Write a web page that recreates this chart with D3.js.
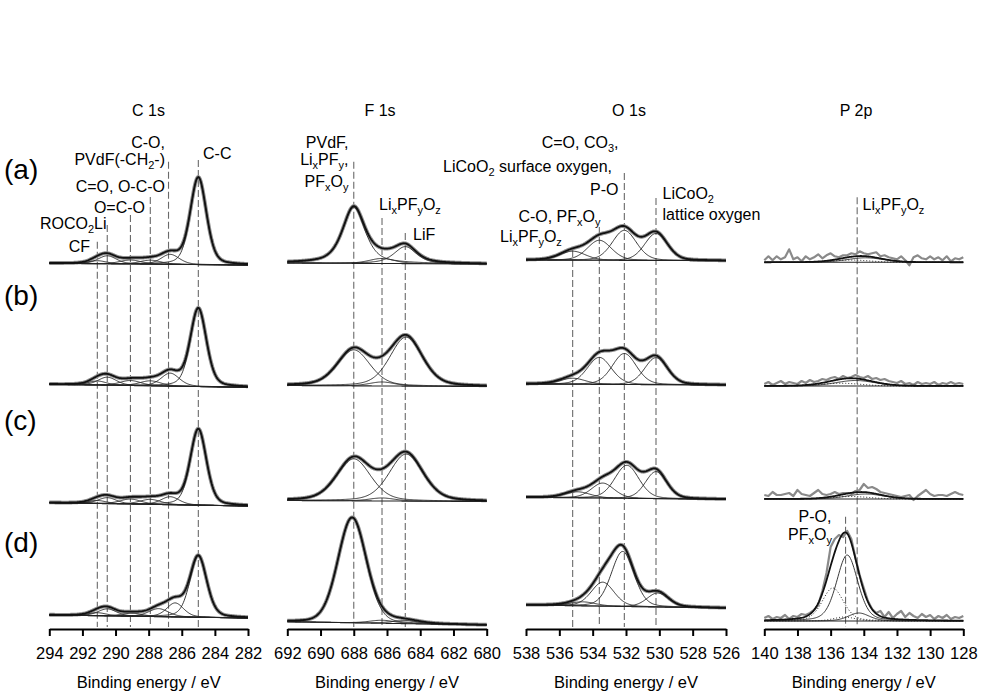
<!DOCTYPE html>
<html><head><meta charset="utf-8">
<script src="https://cdn.jsdelivr.net/npm/d3@7"></script>
<style>
body{margin:0;background:#fff;}
svg{display:block;font-family:"Liberation Sans",Arial,sans-serif;}
</style></head><body>
<svg id="chart" width="984" height="695"></svg>
<script>
// ---------------- data ----------------
const sampleLabels = ["(a)", "(b)", "(c)", "(d)"];
const regionTitles = ["C 1s", "F 1s", "O 1s", "P 2p"];
const cDomain = [294, 282], fDomain = [692, 680], oDomain = [538, 526], pDomain = [140, 128];

// reference binding energies (eV)
const cRefs = [291.1, 290.5, 289.1, 287.9, 286.8, 285.0];
const fRefs = [688.0, 686.3, 684.9];
const oRefs = [535.2, 533.6, 532.1, 530.2];
const pRefs = [135.1, 134.4];

// fitted components per sample: [centre eV, height, FWHM eV, Lorentzian fraction]
const c1sPeaks = [
  [[291.1, 3, 1.3, 0.3], [290.5, 8, 1.3, 0.3], [289.1, 4, 1.5, 0.3], [287.9, 4, 1.5, 0.3], [286.7, 10, 1.3, 0.3], [285.0, 87, 1.15, 0.3]],
  [[291.1, 4, 1.3, 0.3], [290.5, 8, 1.3, 0.3], [289.1, 5, 1.5, 0.3], [287.9, 5, 1.5, 0.3], [286.7, 13, 1.3, 0.3], [285.0, 78, 1.15, 0.3]],
  [[291.1, 3, 1.3, 0.3], [290.5, 6, 1.3, 0.3], [289.1, 5, 1.5, 0.3], [287.9, 5, 1.5, 0.3], [286.7, 8, 1.3, 0.3], [285.0, 76, 1.15, 0.3]],
  [[291.1, 3, 1.3, 0.3], [290.5, 7, 1.3, 0.3], [289.0, 3, 1.5, 0.3], [287.4, 8, 1.4, 0.3], [286.4, 14, 1.2, 0.3], [285.0, 61, 1.2, 0.3]]
];
const c1sBackground = [[2.7, 1], [4.7, 1.7], [4.3, 1], [11, 8]];

const f1sPeaks = [
  [[688.0, 56, 1.6, 0.6], [686.3, 5, 1.8, 0.3], [684.9, 17, 1.6, 0.6]],
  [[688.0, 36, 2.3, 0.3], [686.3, 4, 1.8, 0.3], [684.85, 49, 2.3, 0.3]],
  [[688.0, 42, 2.4, 0.3], [686.3, 3, 1.8, 0.3], [684.85, 47, 2.4, 0.3]],
  [[688.1, 105, 2.0, 0.15], [686.3, 3, 1.8, 0.3], [684.9, 3, 2.0, 0.3]]
];
const f1sBackground = [[3, 2], [3.5, 2.5], [6.5, 5.5], [4.3, 1]];

const o1sPeaks = [
  [[535.2, 9, 1.8, 0.2], [533.6, 20, 1.7, 0.2], [532.1, 30, 1.7, 0.2], [530.2, 27, 1.6, 0.2]],
  [[535.2, 6, 1.8, 0.2], [533.6, 27, 1.7, 0.2], [532.1, 31, 1.7, 0.2], [530.2, 27, 1.6, 0.2]],
  [[534.9, 6, 1.8, 0.2], [533.4, 15, 1.6, 0.2], [531.95, 33, 1.7, 0.2], [530.2, 27, 1.5, 0.2]],
  [[534.6, 4, 1.8, 0.2], [533.4, 24, 1.6, 0.2], [532.2, 55, 1.6, 0.2], [530.1, 14, 1.5, 0.2]]
];
const o1sBackground = [[6, 5.3], [5, 4], [9.7, 7.7], [21, 18]];

// P 2p spin-orbit doublets: 2p3/2 and the matching 2p1/2 partners
const p2p32Peaks = [
  [[133.9, 4.5, 2.6, 0.2]],
  [[134.5, 5.5, 2.8, 0.2]],
  [[133.9, 5, 2.6, 0.2]],
  [[135.0, 66, 1.5, 0.3], [134.3, 8, 1.5, 0.3]]
];
const p2p12Peaks = [
  [[134.77, 2.25, 2.6, 0.2]],
  [[135.37, 2.75, 2.8, 0.2]],
  [[134.77, 2.5, 2.6, 0.2]],
  [[135.87, 33, 1.5, 0.3], [135.17, 4, 1.5, 0.3]]
];
const p2pBackground = [[3.7, 3.7], [3, 3], [8, 8], [5, 5]];

// measured P 2p counts above background, 140 -> 128 eV in 0.25 eV steps
const p2pCountsA = [2,6,2,6,3,5,13,3,5,1, 6,3,5,8,4,7,9,6,5,7, 7,9,8,11,9,8,9,10,6,7, 5,4,3,6,2,-3,5,7,4,3, 6,3,5,2,6,1,4,3,5];
const p2pCountsB = [2,4,1,3,5,2,4,3,2,5, 3,6,4,5,7,6,8,9,7,10, 8,9,11,9,8,10,7,8,6,7, 5,4,3,5,2,3,1,4,2,3, 2,4,1,3,2,4,2,3,2];
const p2pCountsC = [4,3,7,4,4,5,6,3,9,5, 4,3,6,9,5,4,5,7,5,6, 6,5,8,9,15,11,12,10,7,6, 5,4,3,2,3,4,-1,3,6,9, 5,3,4,4,3,5,7,5,4];
const p2pCountsD = [3,5,2,4,3,6,2,5,4,7, 6,8,11,16,30,48,74,82,86,84, 90,82,63,46,33,20,12,8,10,4, 9,3,7,10,4,8,5,3,7,4, 6,2,5,3,6,2,4,3,5];

// ---------------- layout ----------------
const svg = d3.select("#chart");
const axisY = 629, refBottom = 627;
const rowZero = [266, 389, 507, 626];
const panels = [
  {title: regionTitles[0], titleX: 148.5, dom: cDomain, range: [49.3, 248], refs: cRefs,
   refTops: [241.7, 225, 215, 197, 161.7, 160], peaks: c1sPeaks, bg: c1sBackground},
  {title: regionTitles[1], titleX: 380, dom: fDomain, range: [287.3, 486.7], refs: fRefs,
   refTops: [161.7, 218, 233], peaks: f1sPeaks, bg: f1sBackground},
  {title: regionTitles[2], titleX: 629, dom: oDomain, range: [526, 726], refs: oRefs,
   refTops: [250, 227, 173, 198], peaks: o1sPeaks, bg: o1sBackground},
  {title: regionTitles[3], titleX: 856, dom: pDomain, range: [764.3, 963.3], refs: pRefs,
   refTops: [516.7, 197.3], peaks: p2p32Peaks, partners: p2p12Peaks, bg: p2pBackground,
   counts: [p2pCountsA, p2pCountsB, p2pCountsC, p2pCountsD]}
];

// pseudo-Voigt (Gaussian-Lorentzian sum) line shape
function pv(e, p) {
  const t = (e - p[0]) / p[2];
  return p[1] * ((1 - p[3]) * Math.exp(-4 * Math.LN2 * t * t) + p[3] / (1 + 4 * t * t));
}

// rich text: "_x" renders x as a subscript
function richText(sel, str) {
  const parts = str.split(/(_.)/).filter(s => s.length);
  let sub = false;
  parts.forEach(s => {
    if (s[0] === "_") {
      sel.append("tspan").attr("font-size", 11).attr("dy", 4).text(s[1]);
      sub = true;
    } else {
      sel.append("tspan").attr("dy", sub ? -4 : 0).text(s);
      sub = false;
    }
  });
  return sel;
}

const ink = "#111";

panels.forEach(P => {
  const x = d3.scaleLinear().domain(P.dom).range(P.range);
  const g = svg.append("g");

  // reference dashed lines
  g.selectAll("line.ref").data(P.refs).join("line")
    .attr("x1", d => x(d)).attr("x2", d => x(d))
    .attr("y1", (d, i) => P.refTops[i]).attr("y2", refBottom)
    .attr("stroke", "#6a6a6a").attr("stroke-width", 1.1).attr("stroke-dasharray", "7,3");

  const n = 240;
  const energies = d3.range(n + 1).map(i => P.dom[0] + (P.dom[1] - P.dom[0]) * i / n);

  P.peaks.forEach((peaks, r) => {
    const y = d3.scaleLinear().domain([0, 100]).range([rowZero[r], rowZero[r] - 100]);
    const [b0, b1] = P.bg[r];
    const bgAt = e => b0 + (b1 - b0) * (P.dom[0] - e) / (P.dom[0] - P.dom[1]);
    const partners = P.partners ? P.partners[r] : [];
    const all = peaks.concat(partners);
    const line = d3.line().x(d => x(d[0])).y(d => y(d[1]));
    const envelope = energies.map(e => [e, bgAt(e) + d3.sum(all, p => pv(e, p))]);

    // measured spectrum
    if (P.counts) {
      const cts = P.counts[r];
      const step = (P.dom[0] - P.dom[1]) / (cts.length - 1);
      const pts = cts.map((v, i) => { const e = P.dom[0] - i * step; return [e, bgAt(e) + v]; });
      g.append("path").attr("d", line(pts)).attr("fill", "none")
        .attr("stroke", "#8a8a8a").attr("stroke-width", 2.2).attr("stroke-linejoin", "round");
    } else {
      g.append("path").attr("d", line(envelope)).attr("fill", "none")
        .attr("stroke", "#8f8f8f").attr("stroke-width", 3.8).attr("stroke-linejoin", "round");
    }

    // components
    peaks.forEach(p => {
      g.append("path").attr("d", line(energies.map(e => [e, bgAt(e) + pv(e, p)])))
        .attr("fill", "none").attr("stroke", "#222").attr("stroke-width", 0.9);
    });
    partners.forEach(p => {
      g.append("path").attr("d", line(energies.map(e => [e, bgAt(e) + pv(e, p)])))
        .attr("fill", "none").attr("stroke", "#222").attr("stroke-width", 1)
        .attr("stroke-dasharray", "1,2");
    });
    // background
    g.append("path").attr("d", line(energies.map(e => [e, bgAt(e)])))
      .attr("fill", "none").attr("stroke", "#222").attr("stroke-width", 1.1);
    // envelope
    g.append("path").attr("d", line(envelope)).attr("fill", "none")
      .attr("stroke", ink).attr("stroke-width", 1.8).attr("stroke-linejoin", "round");
  });

  // axis
  const ticks = d3.range(P.dom[1], P.dom[0] + 0.001, 2);
  const ax = svg.append("g").attr("transform", `translate(0,${axisY})`)
    .call(d3.axisBottom(x).tickValues(ticks).tickSize(7).tickSizeOuter(0).tickPadding(11).tickFormat(d3.format("d")));
  ax.attr("font-family", null).attr("font-size", null);
  ax.select(".domain").attr("stroke", "#000").attr("stroke-width", 2);
  ax.selectAll(".tick line").attr("stroke", "#000").attr("stroke-width", 2);
  ax.selectAll(".tick text").attr("font-size", 16.5).attr("fill", "#000");

  svg.append("text").attr("x", (P.range[0] + P.range[1]) / 2).attr("y", 688)
    .attr("text-anchor", "middle").attr("font-size", 16.5).attr("fill", "#000")
    .text("Binding energy / eV");
  svg.append("text").attr("x", P.titleX).attr("y", 116)
    .attr("text-anchor", "middle").attr("font-size", 16).attr("fill", "#000")
    .text(P.title);
});

// sample labels
const sampleBaselines = [179, 305, 430, 552];
sampleLabels.forEach((s, i) => {
  svg.append("text").attr("x", 4).attr("y", sampleBaselines[i])
    .attr("font-size", 28).attr("fill", "#000").text(s);
});

// peak assignments
const annotations = [
  ["C-O,", 165, 148, "end"],
  ["PVdF(-CH_2-)", 165, 165, "end"],
  ["C=O, O-C-O", 165, 192, "end"],
  ["O=C-O", 145, 212.5, "end"],
  ["ROCO_2Li", 106.5, 228.5, "end"],
  ["CF", 90, 251.5, "end"],
  ["C-C", 203, 159, "start"],
  ["PVdF,", 348.5, 147.5, "end"],
  ["Li_xPF_y,", 348.5, 165, "end"],
  ["PF_xO_y", 348.5, 186.5, "end"],
  ["Li_xPF_yO_z", 379, 210, "start"],
  ["LiF", 413, 240, "start"],
  ["C=O, CO_3,", 618.5, 148, "end"],
  ["LiCoO_2 surface oxygen,", 612, 171.5, "end"],
  ["P-O", 618.5, 195, "end"],
  ["LiCoO_2", 662.5, 199, "start"],
  ["lattice oxygen", 662.5, 220, "start"],
  ["C-O, PF_xO_y", 600.5, 221.5, "end"],
  ["Li_xPF_yO_z", 500, 242, "start"],
  ["Li_xPF_yO_z", 862.5, 210, "start"],
  ["P-O,", 831.5, 521.5, "end"],
  ["PF_xO_y", 832, 540, "end"]
];
annotations.forEach(([t, ax, ay, anchor]) => {
  richText(svg.append("text").attr("x", ax).attr("y", ay).attr("text-anchor", anchor)
    .attr("font-size", 16).attr("fill", "#000"), t);
});
</script>
</body></html>
